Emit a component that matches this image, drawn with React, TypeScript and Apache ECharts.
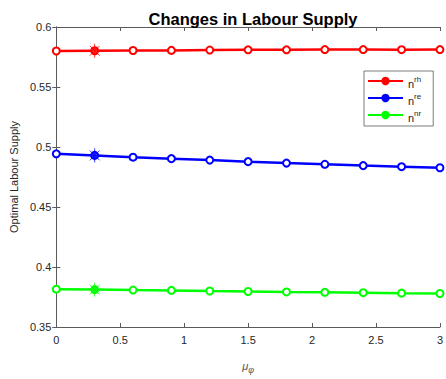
import React, { useEffect, useRef } from "react";
import * as echarts from "echarts";

// Policy parameter values on the x axis
const muPhi = [0, 0.3, 0.6, 0.9, 1.2, 1.5, 1.8, 2.1, 2.4, 2.7, 3.0];

// Optimal labour supply for each household type
const nRH = [0.58, 0.5802, 0.5804, 0.5805, 0.5808, 0.581, 0.581, 0.5812, 0.5812, 0.5811, 0.5812];
const nRE = [0.4943, 0.493, 0.4915, 0.4903, 0.4891, 0.4878, 0.4866, 0.4856, 0.4845, 0.4836, 0.4827];
const nNR = [0.3815, 0.3812, 0.3808, 0.3805, 0.38, 0.3796, 0.3792, 0.3789, 0.3786, 0.3782, 0.3779];

// Highlighted point (baseline calibration)
const markIndex = 1;

const seriesDefs = [
  { name: "rh", color: "#ff0000", data: nRH },
  { name: "re", color: "#0000ff", data: nRE },
  { name: "nr", color: "#00ff00", data: nNR },
];

const asterisk = "path://M0,-10L0,10M-10,0L10,0M-7,-7L7,7M-7,7L7,-7";

export default function App() {
  const ref = useRef<HTMLDivElement>(null);

  useEffect(() => {
    if (!ref.current) return;
    const chart = echarts.init(ref.current, null, { renderer: "svg" });
    const font = "Liberation Sans, Arial, Helvetica, sans-serif";
    const axisColor = "#5a5a5a";
    const tickLabel = { color: "#262626", fontSize: 11, fontFamily: font };

    const lineSeries = seriesDefs.map((s) => ({
      name: s.name,
      type: "line",
      data: muPhi.map((x, i) => [x, s.data[i]]),
      symbol: "circle",
      symbolSize: 7,
      showAllSymbol: true,
      lineStyle: { color: s.color, width: 2.5 },
      itemStyle: { color: "#ffffff", borderColor: s.color, borderWidth: 2 },
      z: 3,
    }));

    const starSeries = seriesDefs.map((s) => ({
      name: s.name + "-mark",
      type: "scatter",
      data: [[muPhi[markIndex], s.data[markIndex]]],
      symbol: asterisk,
      symbolSize: 14,
      itemStyle: { color: "none", borderColor: s.color, borderWidth: 1 },
      z: 4,
    }));

    const dotSeries = seriesDefs.map((s) => ({
      name: s.name + "-dot",
      type: "scatter",
      data: [[muPhi[markIndex], s.data[markIndex]]],
      symbol: "circle",
      symbolSize: 7,
      itemStyle: { color: s.color },
      z: 5,
    }));

    chart.setOption({
      animation: false,
      backgroundColor: "#ffffff",
      title: {
        text: "Changes in Labour Supply",
        left: 248,
        textAlign: "center",
        top: 5,
        textStyle: { fontFamily: font, fontSize: 16.5, fontWeight: "bold", color: "#000" },
      },
      legend: {
        data: seriesDefs.map((s) => ({
          name: s.name,
          itemStyle: { color: s.color, borderColor: s.color },
        })),
        orient: "vertical",
        left: 364,
        top: 71,
        itemWidth: 35,
        itemHeight: 8,
        itemGap: 3,
        padding: [4, 12, 3, 3],
        borderColor: "#444",
        borderWidth: 0.7,
        backgroundColor: "#fff",
        formatter: (name: string) => `{n|n}{s|${name}}`,
        textStyle: {
          fontFamily: font,
          color: "#262626",
          rich: {
            n: { fontSize: 11, color: "#262626", fontFamily: font, padding: [5, 0, 0, 0] },
            s: { fontSize: 8, color: "#262626", fontFamily: font, padding: [0, 0, 4, 0] },
          },
        },
      },
      grid: { left: 55, right: 6, top: 27, bottom: 51, containLabel: false },
      xAxis: [
        {
          type: "value",
          min: 0,
          max: 3,
          interval: 0.5,
          name: "{m|μ}{p|φ}",
          nameLocation: "middle",
          nameGap: 30,
          nameTextStyle: {
            rich: {
              m: { fontSize: 11, color: "#555", fontFamily: font, fontStyle: "italic" },
              p: { fontSize: 9, color: "#555", fontFamily: font, fontStyle: "italic", padding: [8, 0, 0, 0] },
            },
          },
          axisLine: { show: true, lineStyle: { color: axisColor, width: 1 } },
          axisTick: { show: true, inside: true, length: 4, lineStyle: { color: axisColor } },
          axisLabel: { ...tickLabel, margin: 7 },
          splitLine: { show: false },
        },
        {
          type: "value",
          position: "top",
          min: 0,
          max: 3,
          interval: 0.5,
          axisLine: { show: true, lineStyle: { color: axisColor, width: 1 } },
          axisTick: { show: true, inside: true, length: 4, lineStyle: { color: axisColor } },
          axisLabel: { show: false },
          splitLine: { show: false },
        },
      ],
      yAxis: [
        {
          type: "value",
          min: 0.35,
          max: 0.6,
          interval: 0.05,
          name: "Optimal Labour Supply",
          nameLocation: "middle",
          nameGap: 36,
          nameTextStyle: { fontSize: 11, color: "#262626", fontFamily: font },
          axisLine: { show: true, lineStyle: { color: axisColor, width: 1 } },
          axisTick: { show: true, inside: true, length: 4, lineStyle: { color: axisColor } },
          axisLabel: {
            ...tickLabel,
            margin: 5,
            formatter: (v: number) => String(Math.round(v * 100) / 100),
          },
          splitLine: { show: false },
        },
        {
          type: "value",
          position: "right",
          min: 0.35,
          max: 0.6,
          interval: 0.05,
          axisLine: { show: true, lineStyle: { color: axisColor, width: 1 } },
          axisTick: { show: true, inside: true, length: 4, lineStyle: { color: axisColor } },
          axisLabel: { show: false },
          splitLine: { show: false },
        },
      ],
      series: [...lineSeries, ...dotSeries, ...starSeries],
    });

    return () => chart.dispose();
  }, []);

  return (
    <div
      ref={ref}
      style={{ position: "fixed", left: 0, top: 0, width: 446, height: 379 }}
    />
  );
}
